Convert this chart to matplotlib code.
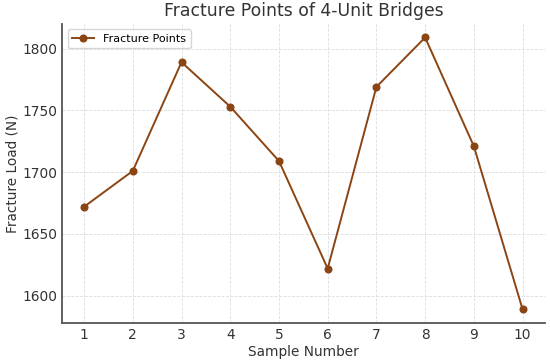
import matplotlib
matplotlib.use("Agg")
import matplotlib.pyplot as plt

samples = [1, 2, 3, 4, 5, 6, 7, 8, 9, 10]
loads = [1672, 1701, 1789, 1753, 1709, 1622, 1769, 1809, 1721, 1589]

fig, ax = plt.subplots(figsize=(5.5, 3.62), dpi=100)
ax.plot(samples, loads, marker='o', color='#8B4513', linewidth=1.4, markersize=4.8,
        label='Fracture Points')
ax.set_title('Fracture Points of 4-Unit Bridges', fontsize=12.4, color='#333333')
ax.set_xlabel('Sample Number', fontsize=9.8, color='#333333', labelpad=2)
ax.set_ylabel('Fracture Load (N)', fontsize=9.8, color='#333333', labelpad=2)
ax.set_xticks(samples)
ax.set_yticks([1600, 1650, 1700, 1750, 1800])
ax.grid(True, linestyle='--', color='#dddddd', linewidth=0.6)
for s in ['top', 'right']:
    ax.spines[s].set_visible(False)
for s in ['left', 'bottom']:
    ax.spines[s].set_color('#555555')
    ax.spines[s].set_linewidth(1.3)
ax.tick_params(length=0, labelsize=9.9, colors='#333333', pad=3.5)
ax.legend(loc='upper left', fontsize=8)
fig.subplots_adjust(left=0.113, right=0.99, top=0.934, bottom=0.108)
fig.savefig('out.png')
